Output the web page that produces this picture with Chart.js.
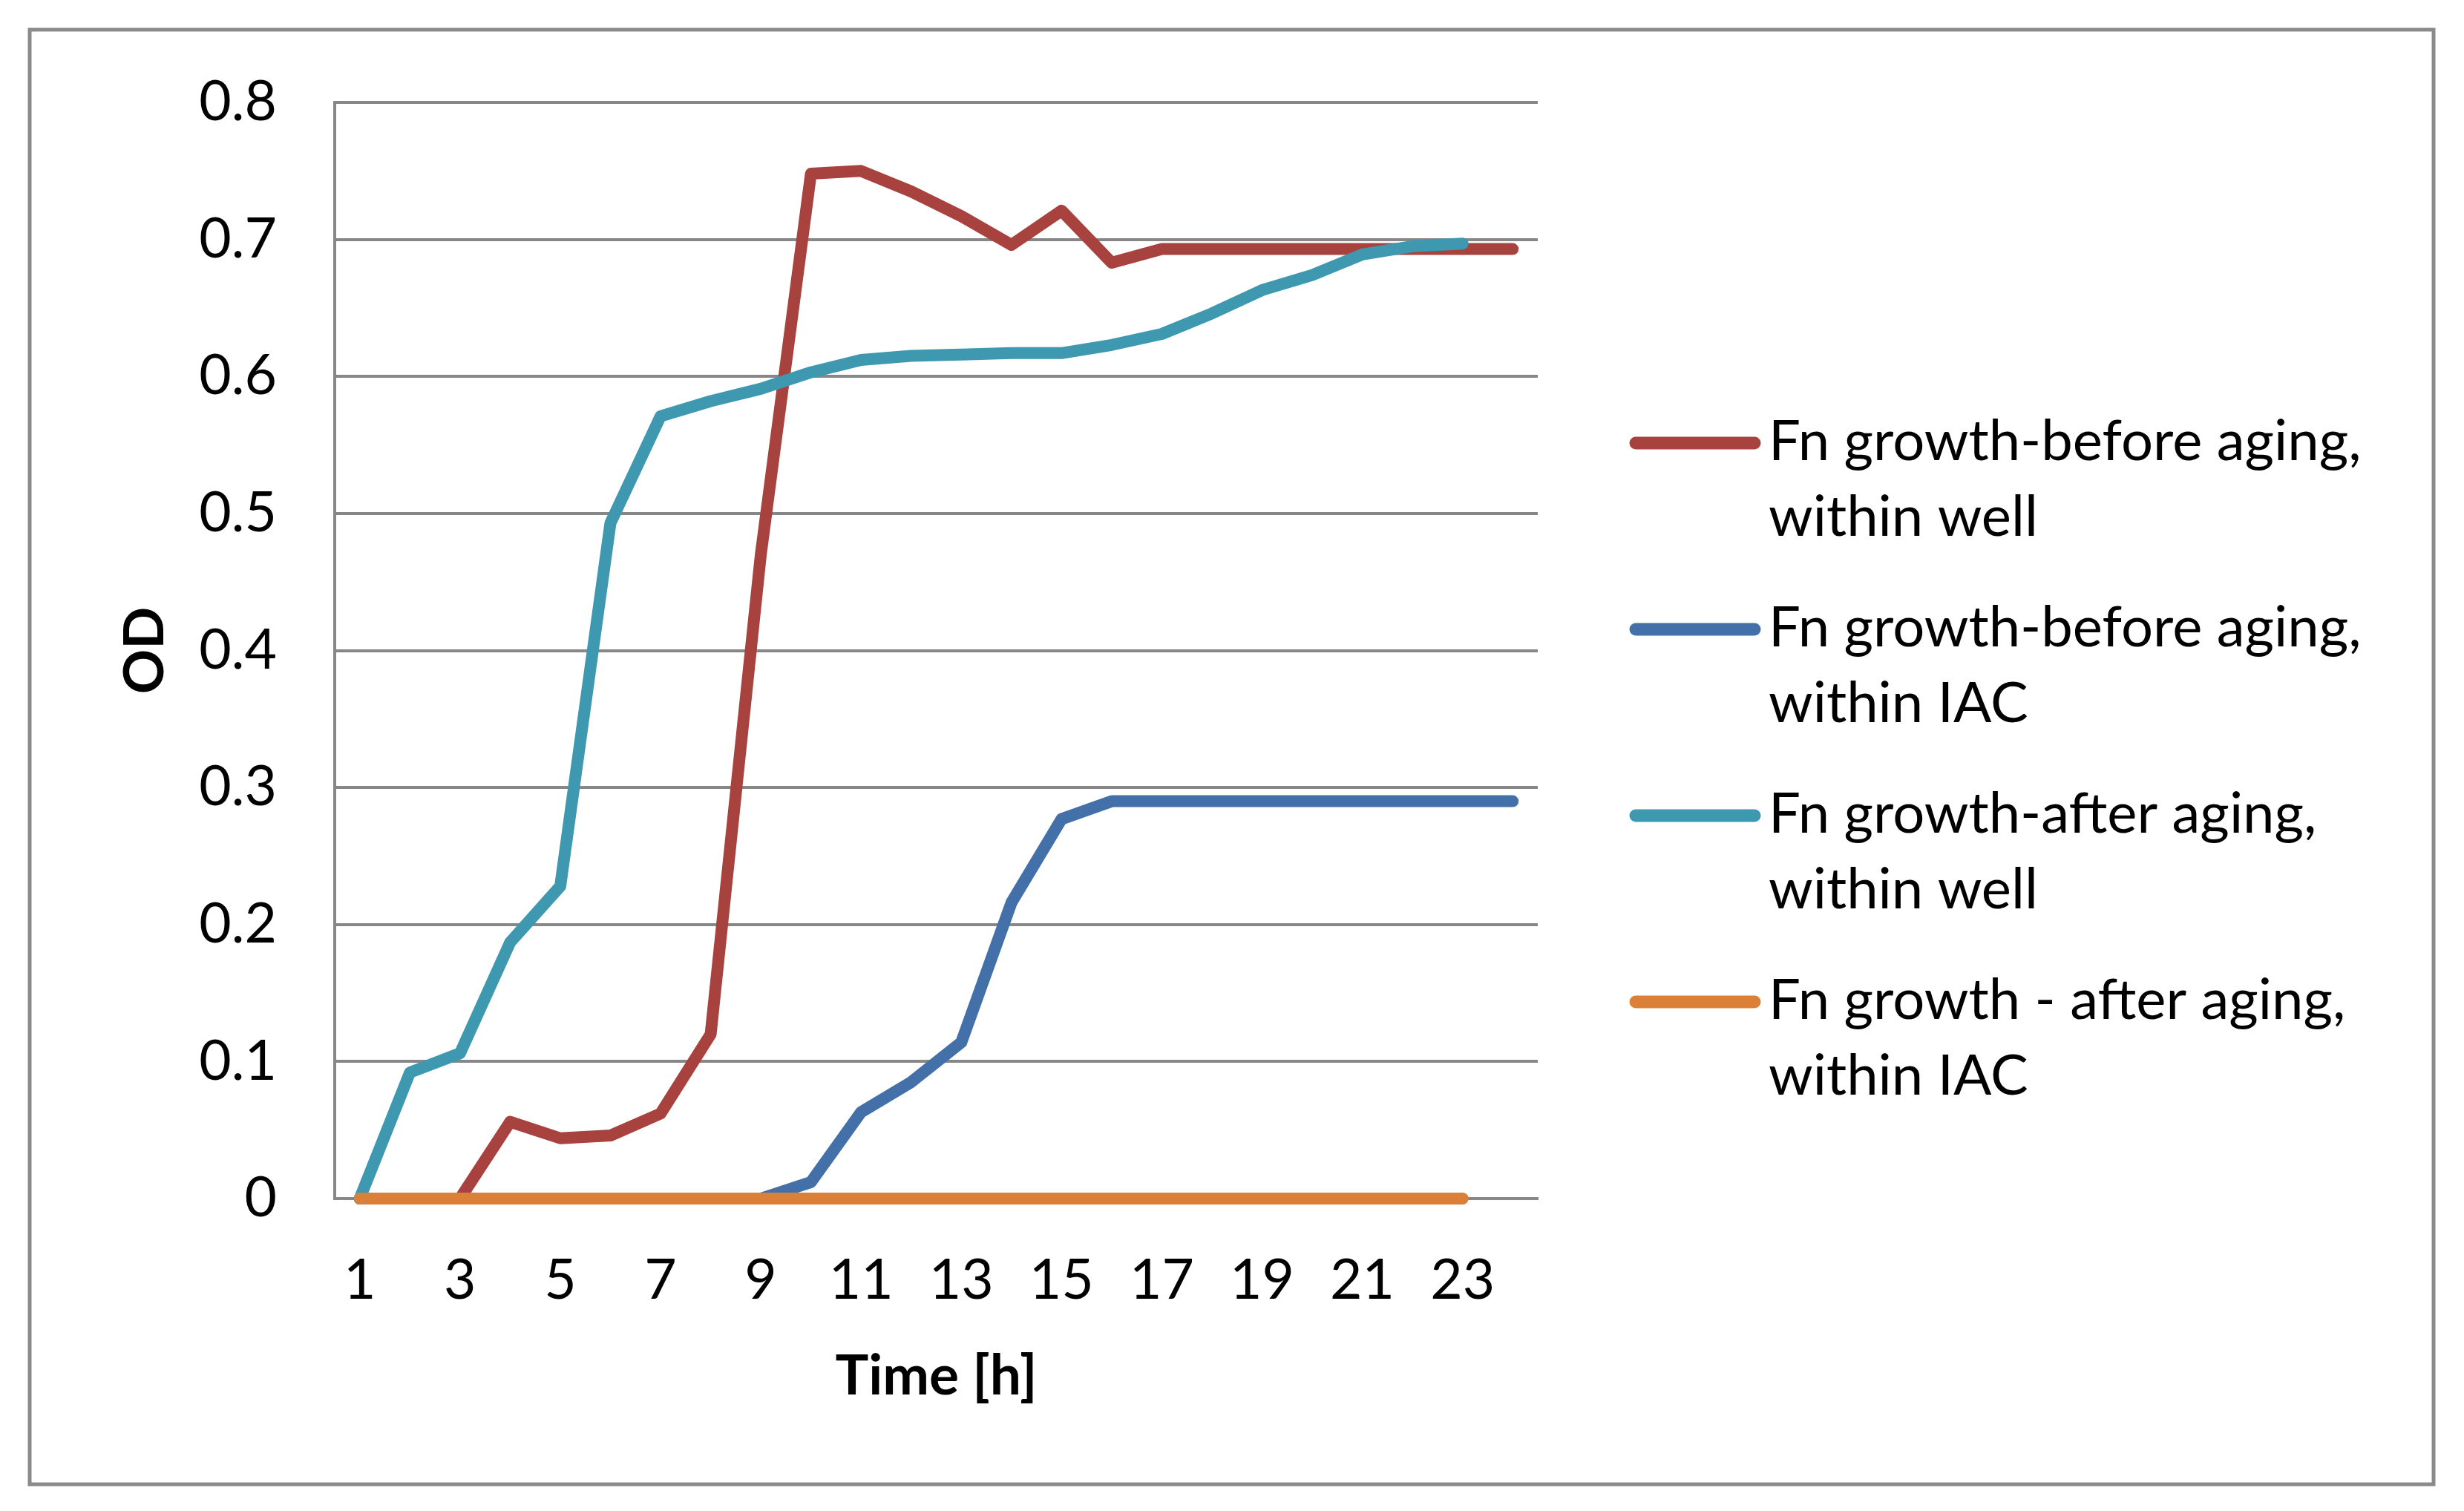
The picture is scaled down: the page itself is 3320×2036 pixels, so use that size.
<!DOCTYPE html>
<html>
<head>
<meta charset="utf-8">
<script src="https://cdn.jsdelivr.net/npm/chart.js@4.4.1/dist/chart.umd.min.js"></script>
<style>
  html, body { margin: 0; padding: 0; background: #fff; overflow: hidden; }
  #wrap { width: 3320px; height: 2036px; }
</style>
</head>
<body>
<div id="wrap"><canvas id="odChart" width="3320" height="2036"></canvas></div>
<script>
// time points (h) used as category labels
const hours = ['1', '2', '3', '4', '5', '6', '7', '8', '9', '10', '11', '12',
               '13', '14', '15', '16', '17', '18', '19', '20', '21', '22', '23', '24'];

const seriesNames = [
  'Fn growth-before aging, within well',
  'Fn growth-before aging, within IAC',
  'Fn growth-after aging, within well',
  'Fn growth - after aging, within IAC'
];

const beforeWell = [0, 0, 0, 0.056, 0.044, 0.046, 0.062, 0.12, 0.47, 0.748, 0.75, 0.735,
                    0.717, 0.696, 0.721, 0.683, 0.693, 0.693, 0.693, 0.693, 0.693, 0.693, 0.693, 0.693];
const beforeIAC = [0, 0, 0, 0, 0, 0, 0, 0, 0, 0.012, 0.063, 0.085,
                   0.114, 0.216, 0.277, 0.29, 0.29, 0.29, 0.29, 0.29, 0.29, 0.29, 0.29, 0.29];
const afterWell = [0, 0.092, 0.106, 0.187, 0.228, 0.493, 0.571, 0.582, 0.591, 0.603, 0.612, 0.615,
                   0.616, 0.617, 0.617, 0.623, 0.631, 0.646, 0.663, 0.674, 0.689, 0.695, 0.697];
const afterIAC = [0, 0, 0, 0, 0, 0, 0, 0, 0, 0, 0, 0,
                  0, 0, 0, 0, 0, 0, 0, 0, 0, 0, 0];

const colors = ['#a8423f', '#4370a8', '#3e98b0', '#db8038'];
const gridColor = '#878787';
const FONT = 'Lato';

Chart.defaults.font.family = FONT;
Chart.defaults.color = '#000';

// white page + grey frame around everything
const framePlugin = {
  id: 'frame',
  beforeDraw(chart) {
    const ctx = chart.ctx;
    ctx.save();
    ctx.fillStyle = '#fff';
    ctx.fillRect(0, 0, chart.width, chart.height);
    ctx.strokeStyle = '#8a8a8a';
    ctx.lineWidth = 5;
    ctx.strokeRect(40, 40, 3239, 1960);
    ctx.restore();
  }
};

// two-line legend on the right, like the original
const sideLegend = {
  id: 'sideLegend',
  afterDraw(chart) {
    const ctx = chart.ctx;
    ctx.save();
    ctx.font = '76px ' + FONT;
    ctx.fillStyle = '#000';
    ctx.textBaseline = 'alphabetic';
    ctx.textAlign = 'left';
    chart.data.datasets.forEach((ds, i) => {
      const base = 620 + i * 251;
      ctx.strokeStyle = ds.borderColor;
      ctx.lineWidth = 17;
      ctx.lineCap = 'round';
      ctx.beginPath();
      ctx.moveTo(2204, base - 23);
      ctx.lineTo(2364, base - 23);
      ctx.stroke();
      const cut = ds.label.indexOf(',') + 1;
      ctx.fillText(ds.label.slice(0, cut), 2383, base);
      ctx.fillText(ds.label.slice(cut).trim(), 2383, base + 102);
    });
    ctx.restore();
  }
};

const dataSets = [beforeWell, beforeIAC, afterWell, afterIAC];

new Chart(document.getElementById('odChart').getContext('2d'), {
  type: 'line',
  data: {
    labels: hours,
    datasets: dataSets.map((d, i) => ({
      label: seriesNames[i],
      data: d,
      borderColor: colors[i],
      backgroundColor: colors[i],
      borderWidth: 16,
      borderCapStyle: 'round',
      borderJoinStyle: 'round',
      pointRadius: 0,
      tension: 0,
      fill: false,
      clip: false,
      order: 4 - i
    }))
  },
  options: {
    responsive: false,
    animation: false,
    devicePixelRatio: 1,
    layout: { padding: { top: 138, right: 1248, bottom: 0, left: 0 } },
    plugins: {
      legend: { display: false },
      tooltip: { enabled: false }
    },
    scales: {
      x: {
        offset: true,
        afterFit: (s) => { s.height = 421; },
        grid: { display: false, drawTicks: false },
        border: { color: gridColor, width: 4 },
        ticks: {
          autoSkip: false,
          maxRotation: 0,
          padding: 66,
          font: { size: 75 },
          callback: function (v, idx) { return idx % 2 === 0 ? this.getLabelForValue(v) : ''; }
        },
        title: {
          display: true,
          text: 'Time [h]',
          font: { size: 75, weight: 'bold', lineHeight: 1 },
          padding: { top: 0, bottom: 144 }
        }
      },
      y: {
        min: 0,
        max: 0.8,
        afterFit: (s) => { s.width = 451; },
        grid: { color: gridColor, lineWidth: 4, drawTicks: false },
        border: { color: gridColor, width: 4 },
        ticks: {
          stepSize: 0.1,
          padding: 78,
          font: { size: 75 },
          callback: (v) => String(+v.toFixed(1))
        },
        title: {
          display: true,
          text: 'OD',
          font: { size: 75, weight: 'bold', lineHeight: 1 },
          padding: { top: 158, bottom: 0 }
        }
      }
    }
  },
  plugins: [framePlugin, sideLegend]
});
</script>
</body>
</html>
